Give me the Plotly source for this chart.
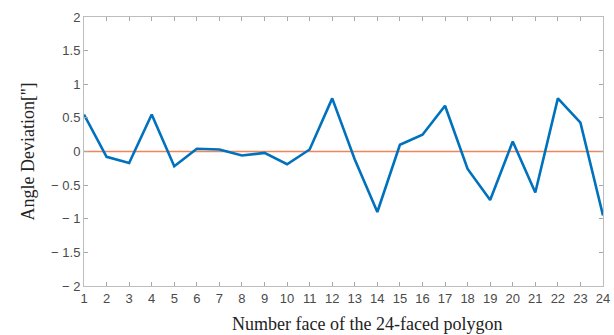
import plotly.graph_objects as go

faces = list(range(1, 25))
deviation = [0.55, -0.08, -0.17, 0.55, -0.22, 0.04, 0.03, -0.06, -0.02, -0.19,
             0.03, 0.79, -0.12, -0.90, 0.10, 0.25, 0.68, -0.26, -0.72, 0.15,
             -0.61, 0.79, 0.43, -0.95]
reference = [0.0] * 24
ytick_vals = [-2, -1.5, -1, -0.5, 0, 0.5, 1, 1.5, 2]
ytick_text = ["\u2212 2", "\u2212 1.5", "\u2212 1", "\u2212 0.5", "0", "0.5", "1", "1.5", "2"]

fig = go.Figure()
fig.add_trace(go.Scatter(x=faces, y=reference, mode="lines",
                         line=dict(color="#F0845A", width=1.6), showlegend=False))
fig.add_trace(go.Scatter(x=faces, y=deviation, mode="lines",
                         line=dict(color="#0072BD", width=2.6), showlegend=False))

axis_common = dict(showgrid=False, zeroline=False, showline=True, linecolor="#bdbdbd",
                   linewidth=1, mirror="ticks", ticks="inside", ticklen=4,
                   tickcolor="#a8a8a8", ticklabeloverflow="allow",
                   tickfont=dict(family="Liberation Sans", size=13, color="#4a4a4a"))

fig.update_xaxes(range=[1, 24], tickvals=faces, **axis_common)
fig.update_yaxes(range=[-2, 2], tickvals=ytick_vals, ticktext=ytick_text,
                 title=dict(text="Angle Deviation['']", font=dict(family="Liberation Serif", size=18, color="#222222"), standoff=11),
                 **axis_common)

fig.add_annotation(text="Number face of the 24-faced polygon", xref="paper", yref="paper",
                   x=0.546, y=-0.098, xanchor="center", yanchor="top", showarrow=False,
                   font=dict(family="Liberation Serif", size=18, color="#222222"))

fig.update_layout(width=614, height=335, margin=dict(l=84, r=4, t=17, b=49),
                  plot_bgcolor="white", paper_bgcolor="white")
fig.write_html("out.html")
